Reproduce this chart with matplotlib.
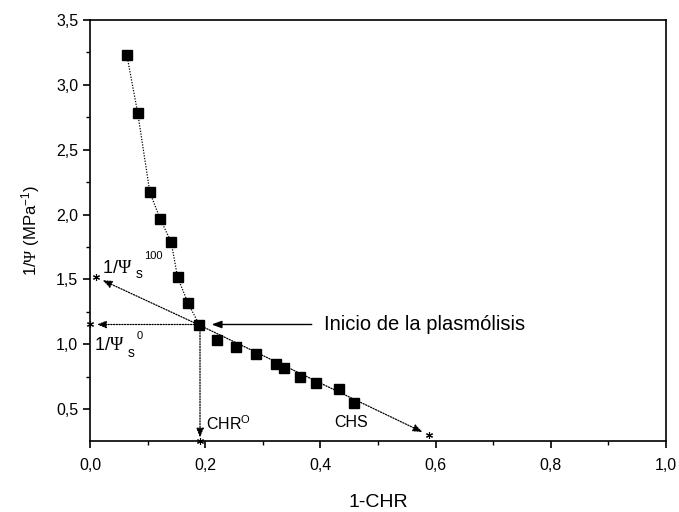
import matplotlib
matplotlib.use("Agg")
import matplotlib.pyplot as plt
from matplotlib.ticker import MultipleLocator, FuncFormatter

# ---- data ----
x_pts = [0.064, 0.083, 0.104, 0.122, 0.141, 0.152, 0.170, 0.190,
         0.220, 0.253, 0.288, 0.323, 0.337, 0.365, 0.392, 0.433, 0.459]
y_pts = [3.23, 2.78, 2.17, 1.965, 1.787, 1.517, 1.319, 1.147,
         1.036, 0.977, 0.928, 0.848, 0.815, 0.751, 0.704, 0.655, 0.550]
n_curve = 8                       # points on the upper (pre-plasmolysis) curve
chr0 = 0.191                      # CHR^O
inv_psi0 = 1.152                  # 1/Psi_s^0
inv_psi100 = 1.515                # 1/Psi_s^100
x_psi100 = 0.010
chs_end = (0.589, 0.298)          # end of CHS line
x_ticks = [0.0, 0.2, 0.4, 0.6, 0.8, 1.0]
y_ticks = [0.5, 1.0, 1.5, 2.0, 2.5, 3.0, 3.5]

plt.rcParams['font.family'] = ['Liberation Sans', 'DejaVu Sans']
plt.rcParams['mathtext.fontset'] = 'custom'
plt.rcParams['mathtext.rm'] = 'Liberation Sans'
plt.rcParams['mathtext.it'] = 'Liberation Sans:italic'
plt.rcParams['mathtext.sf'] = 'Liberation Serif'

fig = plt.figure(figsize=(6.79, 5.12), dpi=100)
ax = fig.add_axes([0.1325, 0.139, 0.8485, 0.822])

dot = (0, (1, 1.2))
# upper curve
ax.plot(x_pts[:n_curve], y_pts[:n_curve], color='k', lw=0.9, ls=dot)
# markers
ax.plot(x_pts, y_pts, ls='none', marker='s', ms=7, color='k')

arrow_kw = dict(arrowstyle='-|>,head_length=0.55,head_width=0.22',
                color='k', lw=0.9, ls=dot, shrinkA=0, shrinkB=0)
star_kw = dict(ls='none', marker=(6, 2, 0), ms=5, color='k', mew=0.8, clip_on=False)
p0 = (x_pts[n_curve - 1], y_pts[n_curve - 1])
# CHS line
ax.annotate('', xy=(chs_end[0] - 0.012, chs_end[1] + 0.025), xytext=p0,
            arrowprops=arrow_kw)
ax.plot([chs_end[0]], [chs_end[1]], **star_kw)
# to 1/Psi_s^100
ax.annotate('', xy=(x_psi100 + 0.012, inv_psi100 - 0.022), xytext=p0,
            arrowprops=arrow_kw)
ax.plot([x_psi100], [inv_psi100], **star_kw)
# horizontal to 1/Psi_s^0
ax.annotate('', xy=(0.012, inv_psi0), xytext=(chr0, inv_psi0),
            arrowprops=arrow_kw)
ax.plot([0.0], [inv_psi0], **star_kw)
# vertical to CHR^O
ax.annotate('', xy=(chr0, 0.28), xytext=(chr0, inv_psi0),
            arrowprops=arrow_kw)
ax.plot([chr0], [0.25], **star_kw)

# "Inicio de la plasmolisis" arrow
ax.annotate('', xy=(0.211, inv_psi0), xytext=(0.385, inv_psi0),
            arrowprops=dict(arrowstyle='-|>,head_length=0.6,head_width=0.22',
                            color='k', lw=1.0, shrinkA=0, shrinkB=0))
ax.text(0.407, inv_psi0, 'Inicio de la plasmólisis', fontsize=14.5,
        va='center', ha='left')


def psi_label(x, y, sup, sub_dy, sup_dy):
    t = ax.text(x, y, r'1/$\mathsf{\Psi}$', fontsize=13, va='baseline', ha='left')
    ax.annotate('s', xy=(1, y), xycoords=(t, 'data'), xytext=(2.5, sub_dy),
                textcoords='offset points', fontsize=10, va='baseline', ha='left')
    ax.annotate(sup, xy=(1, y), xycoords=(t, 'data'), xytext=(8.5, sup_dy),
                textcoords='offset points', fontsize=8, va='baseline', ha='left')


psi_label(0.0208, 1.548, '100', -3.6, 10.0)
psi_label(0.0075, 0.954, '0', -5.0, 8.0)

ax.text(0.201, 0.336, r'CHR$^{\mathrm{O}}$', fontsize=11.5,
        va='baseline', ha='left')
ax.text(0.424, 0.362, 'CHS', fontsize=11.5, va='baseline', ha='left')

ax.set_xlim(0.0, 1.0)
ax.set_ylim(0.255, 3.5)
ax.set_xticks(x_ticks)
ax.set_yticks(y_ticks)
ax.xaxis.set_minor_locator(MultipleLocator(0.1))
ax.yaxis.set_minor_locator(MultipleLocator(0.25))
fmt = FuncFormatter(lambda v, p: f'{v:.1f}'.replace('.', ','))
ax.xaxis.set_major_formatter(fmt)
ax.yaxis.set_major_formatter(fmt)
ax.tick_params(which='major', direction='out', length=5, width=1.2, labelsize=11.5)
ax.tick_params(which='minor', direction='out', length=3, width=1.0)
ax.tick_params(axis='x', which='major', pad=7.5)
ax.tick_params(axis='y', which='major', pad=3.5)
for s in ax.spines.values():
    s.set_linewidth(1.2)

ax.set_xlabel('1-CHR', fontsize=14, labelpad=15)
ax.set_ylabel(r'1/$\mathsf{\Psi}$ (MPa$^{-1}$)', fontsize=12, labelpad=10)

fig.savefig('out.png', dpi=100)
